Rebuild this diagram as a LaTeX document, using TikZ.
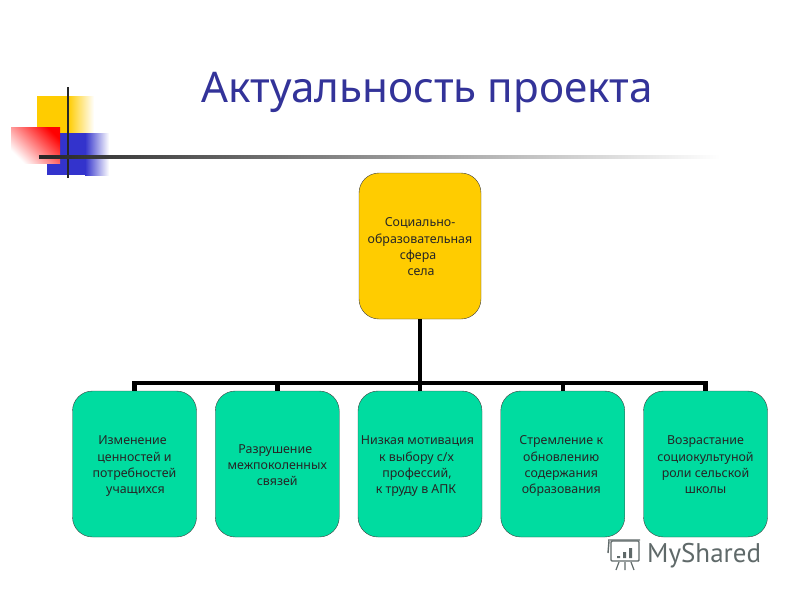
\documentclass[tikz,border=0pt]{standalone}
\usepackage{fontspec}
\setmainfont{Noto Sans}
\newfontfamily\markfont{PT Sans}
\usetikzlibrary{positioning,trees}
\definecolor{titleblue}{RGB}{51,51,153}
\definecolor{rootyellow}{RGB}{255,204,0}
\definecolor{boxgreen}{RGB}{0,220,160}
\definecolor{markgray}{RGB}{95,105,105}
\definecolor{logoblue}{RGB}{51,51,204}
\tikzstyle{every node}=[align=center, inner sep=0pt]
\newcommand{\leadline}{\rule{0pt}{15.5pt}}

\begin{document}
\begin{tikzpicture}[
    x=1pt, y=-1pt,
    title/.style={
        font=\fontsize{42.2}{50}\selectfont,
        text=titleblue
        },
    topic/.style={
        draw=black!75,
        thin,
        fill=rootyellow,
        rounded corners=20pt,
        minimum width=122pt,
        minimum height=146pt,
        text=black!85,
        font=\fontsize{12.4}{16.3}\selectfont
        },
    theme/.style={
        draw=black!75,
        thin,
        fill=boxgreen,
        rounded corners=20pt,
        minimum width=124pt,
        minimum height=146pt,
        text=black!85,
        font=\fontsize{12.4}{16.3}\selectfont
        },
    level 1/.style={sibling distance=142.75pt, level distance=218pt},
    edge from parent/.style={draw, line width=4.5pt},
    edge from parent path={(\tikzparentnode.south) -- ++(0pt,-64pt) -| (\tikzchildnode.north)},
  ]
  \useasboundingbox (0,0) rectangle (800,600);
  % Logo
  \fill[rootyellow] (37,96) rectangle (68,133);
  \shade[left color=rootyellow, right color=white] (68,96) rectangle (94,133);
  \fill[logoblue] (60,133) rectangle (85,175);
  \fill[logoblue] (47,163) rectangle (60,175);
  \shade[left color=logoblue, right color=white] (85,133) rectangle (109,175);
  \shade[bottom color=white, top color=red, shading angle=-45] (11,127) rectangle (60,163);
  \fill[black!85] (66.8,87) rectangle (69.2,178);
  \shade[left color=black!85, middle color=black!60, right color=white] (39,155.7) rectangle (720,158.3);
  % Title
  \node[title] (heading) at (427,92) {Актуальность проекта};
  % Tree
  \node[topic] (sphere) at (420,246) {\leadline Социально-\\образовательная\\\hspace{-4pt}сфера\\\hspace{2pt}села\strut}
  child{ node[theme] (values) {\leadline\hspace{-4pt}Изменение\\ценностей и\\потребностей\\\hspace{2pt}учащихся\strut}}
  child{ node[theme] (bonds) {\leadline\hspace{-4pt}Разрушение\\межпоколенных\\связей\strut}}
  child{ node[theme] (motive) {\leadline\hspace{-5pt}Низкая мотивация\\\hspace{-7pt}к выбору с/х\\\hspace{-6pt}профессий,\\\hspace{-8pt}к труду в АПК\strut}}
  child{ node[theme] (renewal) {\leadline\hspace{-3pt}Стремление к\\\hspace{-3pt}обновлению\\\hspace{-3pt}содержания\\\hspace{-3pt}образования\strut}}
  child{ node[theme] (school) {\leadline Возрастание\\социокультуной\\роли сельской\\школы\strut}};
  % Watermark
  \node[font=\markfont\fontsize{27}{32}\selectfont, text=markgray, anchor=west] (mark) at (647,556) {MyShared};
  \draw[markgray, line width=1.4pt, rounded corners=1pt] (611,541) rectangle (639,561);
  \draw[markgray, line width=1.4pt] (609,541) -- (608,553) (608,540) -- (640,540);
  \fill[markgray] (617,556) rectangle (620,558) (623,552) rectangle (626,558) (629,548) rectangle (632,558);
  \draw[markgray, line width=1.2pt] (619,562) -- (616,570) (625,562) -- (625,570) (631,562) -- (634,570);
\end{tikzpicture}
\end{document}
